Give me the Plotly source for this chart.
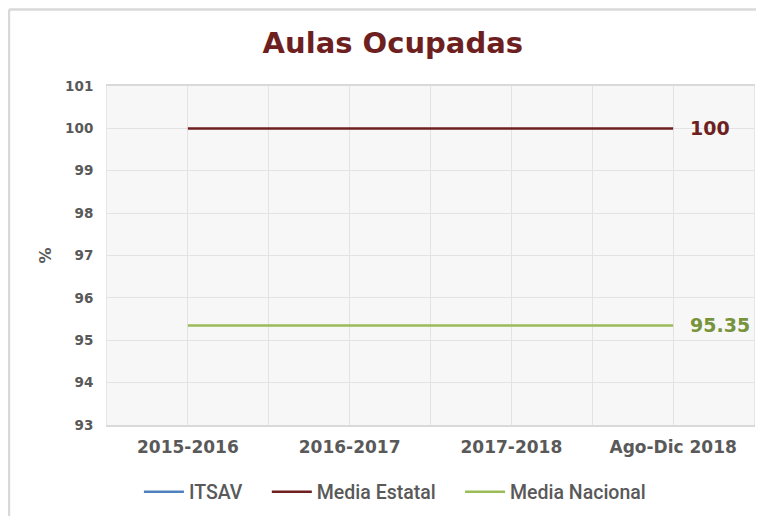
import plotly.graph_objects as go

categories = ["2015-2016", "2016-2017", "2017-2018", "Ago-Dic 2018"]
series_names = ["ITSAV", "Media Estatal", "Media Nacional"]
itsav = [None, None, None, None]
media_estatal = [100, 100, 100, 100]
media_nacional = [95.35, 95.35, 95.35, 95.35]
y_ticks = [93, 94, 95, 96, 97, 98, 99, 100, 101]

xpos = list(range(len(categories)))

c_itsav = "#4f81bd"
c_est = "#6e1f1f"
c_nac = "#9bbb59"
c_nac_lbl = "#77933c"
gray = "#595959"
pad = "\u00a0" * 4

fig = go.Figure()
fig.add_trace(go.Scatter(x=xpos, y=itsav, mode="lines", name=series_names[0] + pad,
                         line=dict(color=c_itsav, width=2.5)))
fig.add_trace(go.Scatter(x=xpos, y=media_estatal, mode="lines", name=series_names[1] + pad,
                         line=dict(color=c_est, width=2.5)))
fig.add_trace(go.Scatter(x=xpos, y=media_nacional, mode="lines", name=series_names[2],
                         line=dict(color=c_nac, width=2.5)))

# data labels at last point
fig.add_annotation(x=xpos[-1], y=media_estatal[-1], text="<b>%g</b>" % media_estatal[-1],
                   showarrow=False, xanchor="left", xshift=15,
                   font=dict(family="DejaVu Sans", size=19, color=c_est))
fig.add_annotation(x=xpos[-1], y=media_nacional[-1], text="<b>%g</b>" % media_nacional[-1],
                   showarrow=False, xanchor="left", xshift=15,
                   font=dict(family="DejaVu Sans", size=19, color=c_nac_lbl))

# outer frame lines
fig.add_shape(type="line", xref="paper", yref="paper", x0=-0.1515, x1=1.03, y0=1.226, y1=1.226,
              line=dict(color="#d9d9d9", width=2.5))
fig.add_shape(type="line", xref="paper", yref="paper", x0=-0.1515, x1=-0.1515, y0=1.226, y1=-0.3,
              line=dict(color="#d9d9d9", width=2.5))

fig.update_layout(
    width=756, height=508,
    margin=dict(l=99, r=10, t=78, b=91),
    paper_bgcolor="white",
    plot_bgcolor="#f7f7f7",
    title=dict(text="<b>Aulas Ocupadas</b>", x=0.509, xanchor="center", y=0.931, yanchor="middle",
               font=dict(family="DejaVu Sans", size=29, color=c_est)),
    showlegend=True,
    legend=dict(orientation="h", x=0.445, xanchor="center", yref="container", y=0.047,
                yanchor="middle",
                font=dict(family="Roboto", size=19.5, color=gray, weight=500),
                itemwidth=40, tracegroupgap=0),
    xaxis=dict(range=[-0.5, 3.5], tickvals=xpos, ticktext=categories, automargin=False,
               showgrid=True, gridcolor="#e3e3e3", gridwidth=1,
               minor=dict(tickvals=[-0.5, 0.5, 1.5, 2.5, 3.5], showgrid=True,
                          gridcolor="#e3e3e3", gridwidth=1),
               showline=True, linecolor="#d9d9d9", linewidth=1.5, mirror=True,
               zeroline=False, ticks="outside", ticklen=6, tickcolor="rgba(0,0,0,0)",
               tickfont=dict(family="DejaVu Sans", size=17, color=gray, weight="bold")),
    yaxis=dict(range=[93, 101], tickvals=y_ticks, showgrid=True, gridcolor="#e3e3e3",
               gridwidth=1, zeroline=False, showline=True, linecolor="#e6e6e6",
               linewidth=1, mirror=True, ticks="outside", ticklen=10, automargin=False,
               tickcolor="rgba(0,0,0,0)",
               tickfont=dict(family="DejaVu Sans", size=13.5, color=gray, weight="bold"),
               title=dict(text="<b>%</b>", standoff=9,
                          font=dict(family="DejaVu Sans", size=16, color=gray))),
)

fig.write_html("out.html")
